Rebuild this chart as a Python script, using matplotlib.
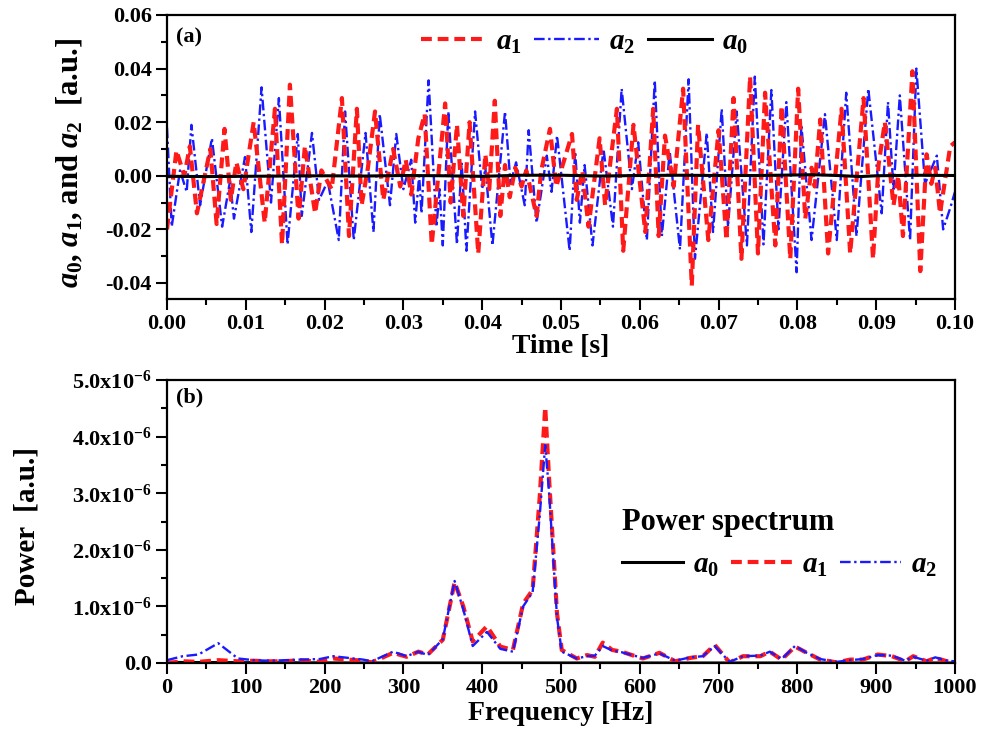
import numpy as np
import matplotlib
matplotlib.use("Agg")
import matplotlib.pyplot as plt
from matplotlib.lines import Line2D

# ---- time signals (t in ms, amplitude in units of 0.01) ----
t_a1 = [0.0, 1.2, 2.2, 2.9, 3.8, 5.5, 6.3, 7.3, 8.1, 8.8, 9.7, 11.0, 12.4, 13.7, 14.6, 15.6,
        16.7, 17.5, 18.8, 19.6, 20.9, 22.2, 23.1, 24.1, 24.7, 25.5, 26.4, 27.45, 28.7, 29.6,
        30.3, 31.0, 31.9, 32.7, 33.6, 35.3, 36.0, 36.8, 37.6, 38.4, 39.5, 40.4, 40.9, 41.6,
        42.3, 42.9, 43.5, 44.2, 45.0, 45.6, 46.9, 47.5, 48.6, 49.4, 51.4, 52.0, 52.7, 53.5,
        54.9, 55.6, 57.1, 57.9, 59.2, 60.7, 61.7, 62.4, 63.2, 64.3, 65.5, 66.6, 67.4, 68.7,
        70.0, 71.0, 71.9, 72.9, 74.0, 75.0, 75.9, 77.2, 78.0, 79.1, 80.1, 81.0, 81.8, 82.2,
        82.9, 83.9, 85.6, 86.7, 88.4, 89.6, 90.3, 91.1, 92.2, 92.8, 93.4, 94.6, 95.6, 96.4,
        97.0, 97.5, 98.1, 99.4, 100.0]
a1 = [-2.0, 0.94, 0.0, 1.1, -1.4, 1.0, -1.8, 1.75, -0.9, 0.5, -0.5, 2.0, -1.75, 2.5, -2.56, 3.4,
      -1.6, 1.1, -1.4, 0.2, -0.5, 2.9, -2.25, 2.5, -1.1, 0.3, 2.4, -0.9, 1.0, -0.4,
      0.6, -0.7, 1.4, 2.3, -2.56, 2.7, -1.0, 1.9, -1.5, 2.0, -2.9, 0.8, -0.5, 2.8,
      -1.5, 0.4, -0.8, 0.3, -0.4, 0.2, -1.5, 0.2, 1.75, -0.4, 1.56, -0.9, 0.2, -1.9,
      1.4, -1.1, 2.5, -2.8, 1.9, -2.1, 2.5, -2.25, 1.5, -0.4, 3.25, -4.1, 1.9, -2.4,
      1.7, -2.4, 2.9, -3.1, 3.7, -2.9, 3.1, -2.6, 2.6, -3.1, 3.25, -1.6, 0.3, -0.4,
      2.1, -2.9, 2.5, -2.9, 2.9, -3.1, 0.4, 2.0, -1.1, 0.0, -2.25, 3.9, -3.56, 0.8,
      -0.3, 0.3, -1.4, 1.1, 1.25]

t_a2 = [0.0, 0.6, 1.65, 2.5, 3.1, 4.2, 5.7, 7.0, 8.0, 8.5, 9.9, 10.7, 12.0, 13.2, 14.2, 15.3,
        16.6, 17.1, 18.4, 19.3, 20.4, 21.8, 22.6, 23.7, 25.2, 26.2, 27.0, 28.3, 29.1, 30.0,
        31.0, 31.5, 32.0, 32.3, 33.2, 34.2, 34.6, 35.0, 35.7, 36.8, 37.4, 38.0, 39.1, 40.0,
        40.4, 41.3, 42.9, 43.6, 44.3, 45.4, 45.9, 46.9, 48.2, 48.8, 49.5, 51.1, 51.8, 52.4,
        53.0, 54.0, 55.4, 56.6, 57.7, 59.0, 59.8, 60.9, 61.9, 62.8, 63.8, 65.1, 66.2, 67.0,
        68.5, 69.3, 70.4, 71.2, 72.3, 73.6, 74.6, 75.7, 76.7, 77.6, 78.6, 79.9, 80.5, 81.8,
        83.5, 85.0, 86.2, 87.5, 89.0, 90.7, 91.5, 92.2, 93.0, 94.3, 95.1, 96.2, 97.7, 98.5,
        99.4, 100.0]
a2 = [1.8, -1.9, 0.2, -0.6, 1.9, -1.1, 1.4, -1.9, -0.2, -1.6, 0.7, -2.1, 3.3, -1.0, 2.9, -2.56,
      1.56, -1.5, 1.6, -0.9, -0.2, -2.4, 2.4, -2.4, 1.6, -2.1, 2.3, -1.1, 1.56, -0.5,
      0.6, -1.75, 0.0, -1.4, 3.56, -1.9, -0.5, -2.6, 2.4, -2.56, 0.5, -2.8, 2.4, -0.5,
      0.3, -2.6, 2.4, -0.3, 0.5, -1.1, 1.7, -1.75, 0.75, -0.6, 1.5, -2.8, 0.9, -1.75,
      0.4, -2.6, 1.0, -1.9, 3.25, -0.5, 1.25, -2.4, 3.56, -2.25, 0.9, -2.75, 3.6, -3.1,
      1.6, -2.1, 2.5, -1.9, 2.4, -2.6, 3.7, -2.56, 3.2, -2.0, 2.75, -3.6, 1.9, -2.4,
      2.3, -2.4, 3.1, -2.25, 3.25, -1.4, 2.75, -0.5, 3.0, -2.4, 4.0, -0.3, 0.75, -2.0,
      -1.2, -0.6]

t_a0 = [0, 5, 10, 15, 20, 25, 30, 35, 40, 45, 50, 55, 60, 65, 70, 75, 80, 82, 85, 88, 90, 95, 100]
a0 = [-0.02, -0.03, -0.02, -0.01, 0.0, -0.01, 0.01, 0.0, -0.02, 0.02, 0.02, -0.01, 0.01,
      0.02, 0.01, 0.01, 0.03, 0.04, 0.01, -0.03, 0.0, 0.02, 0.01]

# ---- power spectra (Hz, units of 1e-6) ----
freq = [0, 20, 40, 65, 90, 110, 130, 150, 169, 194, 211, 249, 260, 287, 304, 319, 331, 350,
        365, 376, 388, 406, 423, 439, 452, 464, 473, 480, 485, 495, 501, 520, 533, 543, 553,
        565, 577, 590, 604, 625, 645, 664, 680, 695, 714, 731, 753, 765, 780, 797, 812, 829,
        850, 867, 883, 902, 920, 937, 947, 964, 975, 990, 1000]
p_a1 = [0.0, 0.03, 0.02, 0.05, 0.03, 0.04, 0.03, 0.03, 0.05, 0.02, 0.08, 0.04, 0.01, 0.18,
        0.11, 0.2, 0.15, 0.41, 1.43, 1.0, 0.38, 0.65, 0.29, 0.23, 1.05, 1.29, 2.93, 4.52,
        3.23, 0.87, 0.23, 0.08, 0.14, 0.11, 0.36, 0.23, 0.2, 0.14, 0.08, 0.18, 0.03, 0.09,
        0.12, 0.32, 0.01, 0.12, 0.12, 0.2, 0.06, 0.29, 0.18, 0.06, 0.01, 0.06, 0.06, 0.15,
        0.12, 0.03, 0.12, 0.03, 0.09, 0.03, 0.02]
p_a2 = [0.05, 0.12, 0.15, 0.35, 0.08, 0.05, 0.04, 0.05, 0.06, 0.07, 0.12, 0.06, 0.03, 0.2,
        0.12, 0.2, 0.14, 0.42, 1.45, 0.95, 0.3, 0.55, 0.25, 0.2, 1.0, 1.25, 2.6, 3.85,
        3.0, 0.8, 0.2, 0.08, 0.12, 0.13, 0.3, 0.22, 0.19, 0.14, 0.09, 0.17, 0.04, 0.1,
        0.12, 0.3, 0.02, 0.12, 0.13, 0.2, 0.07, 0.3, 0.18, 0.07, 0.02, 0.05, 0.07, 0.14,
        0.13, 0.04, 0.11, 0.04, 0.1, 0.04, 0.03]
freq_a0 = [0, 250, 500, 750, 1000]
p_a0 = [0.01, 0.0, 0.0, 0.0, 0.0]

plt.rcParams['font.family'] = ['Liberation Serif', 'DejaVu Serif']
plt.rcParams['font.weight'] = 'bold'
plt.rcParams['mathtext.fontset'] = 'custom'
plt.rcParams['mathtext.rm'] = 'Liberation Serif:bold'
plt.rcParams['mathtext.bf'] = 'Liberation Serif:bold'
plt.rcParams['mathtext.it'] = 'Liberation Serif:italic:bold'

RED = '#ff1a1a'
BLUE = '#1a1aff'
red_style = dict(color=RED, lw=3.0, dashes=(2.6, 1.4))
blue_style = dict(color=BLUE, lw=1.7, dashes=(4.5, 1.5, 1.0, 1.5))
black_style = dict(color='black', lw=2.2)

fig = plt.figure(figsize=(9.84, 7.5), dpi=100)
ax1 = fig.add_axes([0.1697, 0.6013, 0.8008, 0.3787])
ax2 = fig.add_axes([0.1697, 0.116, 0.8008, 0.3773])

# (a) time signals
ax1.plot(np.array(t_a2) / 1000, np.array(a2) / 100, **blue_style)
ax1.plot(np.array(t_a1) / 1000, np.array(a1) / 100, **red_style)
ax1.plot(np.array(t_a0) / 1000, np.array(a0) / 100, **black_style)
ax1.set_xlim(0, 0.1)
ax1.set_ylim(-0.046, 0.06)
ax1.set_xticks(np.arange(0, 0.1001, 0.01))
ax1.set_xticks(np.arange(0.005, 0.1, 0.01), minor=True)
ax1.set_xticklabels(['%.2f' % v for v in np.arange(0, 0.1001, 0.01)])
ax1.set_yticks([-0.04, -0.02, 0.0, 0.02, 0.04, 0.06])
ax1.set_yticks([-0.03, -0.01, 0.01, 0.03, 0.05], minor=True)
ax1.set_yticklabels(['-0.04', '-0.02', '0.00', '0.02', '0.04', '0.06'])
ax1.set_xlabel('Time [s]', fontsize=20, fontweight='bold', labelpad=0)
ax1.set_ylabel(r'$a_\mathit{0}$, $a_\mathit{1}$, and $a_\mathit{2}$  [a.u.]',
               fontsize=22, fontweight='bold')
ax1.yaxis.set_label_coords(-0.103, 0.48)
ax1.text(0.012, 0.955, '(a)', transform=ax1.transAxes, fontsize=16, fontweight='bold',
         va='top', ha='left')
h_top = [Line2D([], [], **red_style), Line2D([], [], **blue_style), Line2D([], [], **black_style)]
ax1.legend(h_top, [r'$a_\mathit{1}$', r'$a_\mathit{2}$', r'$a_\mathit{0}$'], ncol=3,
           loc='center', bbox_to_anchor=(0.53, 0.905), frameon=False, fontsize=21,
           handlelength=2.2, columnspacing=0.45, handletextpad=0.35, borderpad=0.1)

# (b) power spectra
ax2.plot(freq_a0, np.array(p_a0) * 1e-6, **black_style)
ax2.plot(freq, np.array(p_a1) * 1e-6, **red_style)
ax2.plot(freq, np.array(p_a2) * 1e-6, **blue_style)
ax2.set_xlim(0, 1000)
ax2.set_ylim(0, 5e-6)
ax2.set_xticks(np.arange(0, 1001, 100))
ax2.set_xticks(np.arange(50, 1000, 100), minor=True)
ax2.set_yticks(np.arange(0, 5.1e-6, 1e-6))
ax2.set_yticks(np.arange(0.5e-6, 5e-6, 1e-6), minor=True)
ax2.set_yticklabels(['0.0'] + [r'%.1fx10$^{-6}$' % v for v in range(1, 6)])
ax2.set_xlabel('Frequency [Hz]', fontsize=20, fontweight='bold', labelpad=2)
ax2.set_ylabel('Power  [a.u.]', fontsize=21, fontweight='bold')
ax2.yaxis.set_label_coords(-0.16, 0.484)
ax2.text(0.012, 0.975, '(b)', transform=ax2.transAxes, fontsize=16, fontweight='bold',
         va='top', ha='left')
h_bot = [Line2D([], [], **black_style), Line2D([], [], **red_style), Line2D([], [], **blue_style)]
leg = ax2.legend(h_bot, [r'$a_\mathit{0}$', r'$a_\mathit{1}$', r'$a_\mathit{2}$'], ncol=3,
                 loc='upper left', bbox_to_anchor=(0.555, 0.61), frameon=False, fontsize=21,
                 handlelength=2.1, columnspacing=0.4, handletextpad=0.35, borderpad=0.1,
                 title='Power spectrum', title_fontproperties={'size': 22, 'weight': 'bold'})
leg._legend_box.align = 'left'

for ax in (ax1, ax2):
    for sp in ax.spines.values():
        sp.set_linewidth(1.6)
    ax.tick_params(which='major', direction='out', length=8, width=1.5, labelsize=16, pad=3)
    ax.tick_params(which='minor', direction='out', length=4.5, width=1.5)

fig.savefig('out.png', dpi=100)
